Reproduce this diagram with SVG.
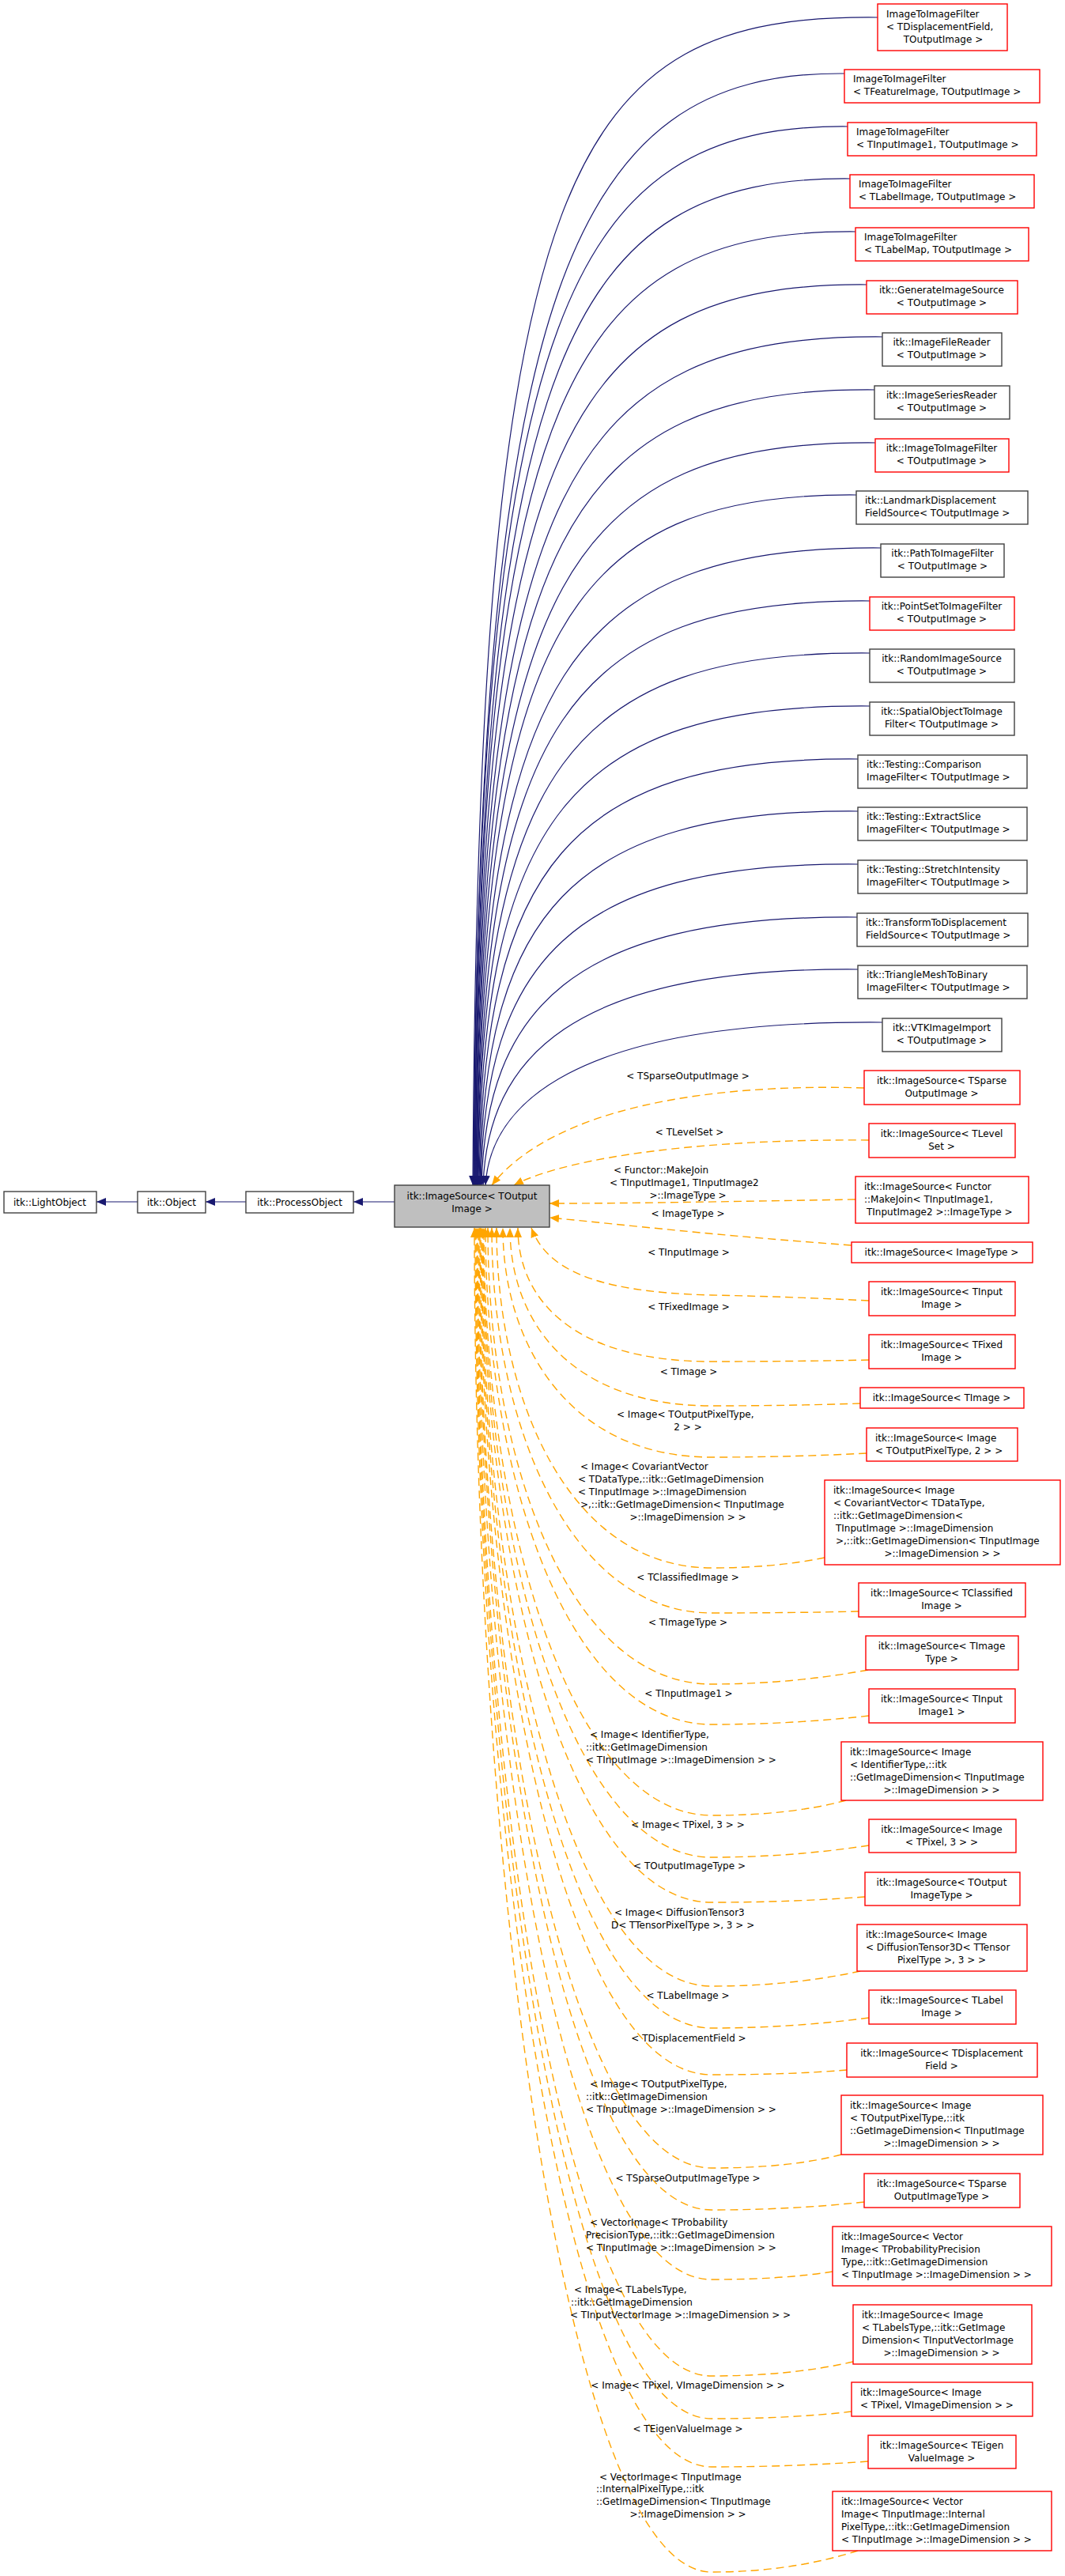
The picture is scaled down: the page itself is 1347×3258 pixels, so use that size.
<svg xmlns="http://www.w3.org/2000/svg" width="1347" height="3258" viewBox="0 0 1347 3258">
<style>
text{font-family:"DejaVu Sans","Liberation Sans",sans-serif;font-size:12px;fill:#000}
.m{text-anchor:middle}
.r{fill:#fff;stroke:#f00;stroke-width:1.4}
.b{fill:#fff;stroke:#404040;stroke-width:1.4}
.g{fill:#bfbfbf;stroke:#404040;stroke-width:1.4}
.s{fill:none;stroke:#191970;stroke-width:1.2;marker-end:url(#an)}
.d{fill:none;stroke:#ffa500;stroke-width:1.4;stroke-dasharray:10,6;marker-end:url(#ao)}
</style>
<defs>
<marker id="an" markerUnits="userSpaceOnUse" markerWidth="12" markerHeight="10" refX="12" refY="5" orient="auto"><path d="M0,0 L12,5 L0,10 z" fill="#191970"/></marker>
<marker id="ao" markerUnits="userSpaceOnUse" markerWidth="12" markerHeight="10" refX="12" refY="5" orient="auto"><path d="M0,0 L12,5 L0,10 z" fill="#ffa500"/></marker>
</defs>
<rect width="1347" height="3258" fill="#fff"/>
<g id="edges">
<path class="s" d="M174,1520 L122,1520"/>
<path class="s" d="M311,1520 L260,1520"/>
<path class="s" d="M499,1520 L447,1520"/>
<path class="s" d="M1110,22 C720,18 605,200 598,1499"/>
<path class="s" d="M1068,93 C720,90 605,370 599,1499"/>
<path class="s" d="M1072,160 C720,157 605,400 599,1499"/>
<path class="s" d="M1075,226 C720,223 606,450 600,1499"/>
<path class="s" d="M1082,293 C720,290 606,500 600,1499"/>
<path class="s" d="M1096,360 C720,357 606,560 601,1499"/>
<path class="s" d="M1116,426 C720,423 607,620 601,1499"/>
<path class="s" d="M1106,493 C720,490 607,680 602,1499"/>
<path class="s" d="M1107,560 C720,557 608,740 602,1499"/>
<path class="s" d="M1083,626 C720,623 608,800 603,1499"/>
<path class="s" d="M1114,693 C720,690 609,860 603,1499"/>
<path class="s" d="M1100,760 C720,757 609,920 604,1499"/>
<path class="s" d="M1100,826 C720,823 610,980 604,1499"/>
<path class="s" d="M1100,893 C720,890 610,1040 605,1499"/>
<path class="s" d="M1085,960 C720,957 611,1100 606,1499"/>
<path class="s" d="M1085,1026 C720,1023 612,1160 607,1499"/>
<path class="s" d="M1085,1093 C720,1090 613,1220 608,1499"/>
<path class="s" d="M1084,1160 C720,1157 615,1280 609,1499"/>
<path class="s" d="M1085,1226 C720,1223 617,1340 611,1499"/>
<path class="s" d="M1116,1293 C720,1290 620,1400 614,1499"/>
<path class="d" d="M1093,1376 C900,1370 700,1400 622,1499"/>
<path class="d" d="M1099,1442 C900,1440 720,1462 650,1499"/>
<path class="d" d="M1082,1517 C900,1520 800,1522 695,1522"/>
<path class="d" d="M1077,1575 C900,1562 800,1550 695,1540"/>
<path class="d" d="M1099,1645 Q1000,1640 900,1638 C740,1634 690,1600 672,1553"/>
<path class="d" d="M1099,1720 Q1000,1722 900,1722 C720,1722 655,1640 655,1553"/>
<path class="d" d="M1088,1775 Q1000,1778 900,1778 C720,1778 645,1670 645,1553"/>
<path class="d" d="M1096,1838 Q1000,1843 900,1843 C720,1843 636,1700 636,1553"/>
<path class="d" d="M1043,1970 Q980,1983 900,1983 C720,1983 628,1770 628,1553"/>
<path class="d" d="M1086,2038 Q1000,2040 900,2040 C720,2040 622,1800 622,1553"/>
<path class="d" d="M1098,2112 Q1000,2130 900,2130 C720,2130 617,1850 617,1553"/>
<path class="d" d="M1099,2170 Q1000,2181 900,2181 C720,2181 614,1870 614,1553"/>
<path class="d" d="M1070,2277 Q1000,2296 900,2296 C720,2296 612,1920 612,1553"/>
<path class="d" d="M1099,2334 Q1000,2349 900,2349 C720,2349 611,1950 611,1553"/>
<path class="d" d="M1094,2399 Q1000,2406 900,2406 C720,2406 610,1980 610,1553"/>
<path class="d" d="M1088,2493 Q1000,2512 900,2512 C720,2512 609,2030 609,1553"/>
<path class="d" d="M1099,2552 Q1000,2565 900,2565 C720,2565 608,2060 608,1553"/>
<path class="d" d="M1071,2618 Q1000,2624 900,2624 C720,2624 607,2090 607,1553"/>
<path class="d" d="M1064,2725 Q1000,2742 900,2742 C720,2742 606,2150 606,1553"/>
<path class="d" d="M1093,2785 Q1000,2795 900,2795 C720,2795 605,2170 605,1553"/>
<path class="d" d="M1053,2873 Q990,2883 900,2883 C720,2883 604,2220 604,1553"/>
<path class="d" d="M1079,2987 Q1000,3005 900,3005 C720,3005 603,2280 603,1553"/>
<path class="d" d="M1077,3050 Q1000,3059 900,3059 C720,3059 602,2300 602,1553"/>
<path class="d" d="M1098,3113 Q1000,3120 900,3120 C720,3120 601,2340 601,1553"/>
<path class="d" d="M1085,3226 Q1000,3253 900,3253 C720,3253 600,2400 600,1553"/>
</g>
<g id="labels">
<text class="m" x="870" y="1365">&lt; TSparseOutputImage &gt;</text>
<text class="m" x="872" y="1436">&lt; TLevelSet &gt;</text>
<text x="776" y="1484">&lt; Functor::MakeJoin</text>
<text x="771" y="1500">&lt; TInputImage1, TInputImage2</text>
<text class="m" x="870" y="1516">&gt;::ImageType &gt;</text>
<text class="m" x="870" y="1539">&lt; ImageType &gt;</text>
<text class="m" x="871" y="1588">&lt; TInputImage &gt;</text>
<text class="m" x="871" y="1657">&lt; TFixedImage &gt;</text>
<text class="m" x="871" y="1739">&lt; TImage &gt;</text>
<text x="780" y="1793">&lt; Image&lt; TOutputPixelType,</text>
<text class="m" x="870" y="1809">2 &gt; &gt;</text>
<text x="734" y="1859">&lt; Image&lt; CovariantVector</text>
<text x="731" y="1875">&lt; TDataType,::itk::GetImageDimension</text>
<text x="731" y="1891">&lt; TInputImage &gt;::ImageDimension</text>
<text x="734" y="1907">&gt;,::itk::GetImageDimension&lt; TInputImage</text>
<text class="m" x="870" y="1923">&gt;::ImageDimension &gt; &gt;</text>
<text class="m" x="870" y="1999">&lt; TClassifiedImage &gt;</text>
<text class="m" x="870" y="2056">&lt; TImageType &gt;</text>
<text class="m" x="871" y="2146">&lt; TInputImage1 &gt;</text>
<text x="746" y="2198">&lt; Image&lt; IdentifierType,</text>
<text x="741" y="2214">::itk::GetImageDimension</text>
<text x="741" y="2230">&lt; TInputImage &gt;::ImageDimension &gt; &gt;</text>
<text class="m" x="870" y="2312">&lt; Image&lt; TPixel, 3 &gt; &gt;</text>
<text class="m" x="872" y="2364">&lt; TOutputImageType &gt;</text>
<text x="777" y="2423">&lt; Image&lt; DiffusionTensor3</text>
<text x="773" y="2439">D&lt; TTensorPixelType &gt;, 3 &gt; &gt;</text>
<text class="m" x="870" y="2528">&lt; TLabelImage &gt;</text>
<text class="m" x="871" y="2582">&lt; TDisplacementField &gt;</text>
<text x="746" y="2640">&lt; Image&lt; TOutputPixelType,</text>
<text x="741" y="2656">::itk::GetImageDimension</text>
<text x="741" y="2672">&lt; TInputImage &gt;::ImageDimension &gt; &gt;</text>
<text class="m" x="870" y="2759">&lt; TSparseOutputImageType &gt;</text>
<text x="746" y="2815">&lt; VectorImage&lt; TProbability</text>
<text x="741" y="2831">PrecisionType,::itk::GetImageDimension</text>
<text x="741" y="2847">&lt; TInputImage &gt;::ImageDimension &gt; &gt;</text>
<text x="726" y="2900">&lt; Image&lt; TLabelsType,</text>
<text x="722" y="2916">::itk::GetImageDimension</text>
<text x="721" y="2932">&lt; TInputVectorImage &gt;::ImageDimension &gt; &gt;</text>
<text class="m" x="870" y="3021">&lt; Image&lt; TPixel, VImageDimension &gt; &gt;</text>
<text class="m" x="870" y="3076">&lt; TEigenValueImage &gt;</text>
<text x="758" y="3137">&lt; VectorImage&lt; TInputImage</text>
<text x="754" y="3152">::InternalPixelType,::itk</text>
<text x="754" y="3168">::GetImageDimension&lt; TInputImage</text>
<text class="m" x="870" y="3184">&gt;::ImageDimension &gt; &gt;</text>
</g>
<g id="lightobject"><rect class="b" x="5" y="1507" width="117" height="27"/><text class="m" x="63" y="1525">itk::LightObject</text></g>
<g id="object"><rect class="b" x="174" y="1507" width="86" height="27"/><text class="m" x="217" y="1525">itk::Object</text></g>
<g id="processobject"><rect class="b" x="311" y="1507" width="136" height="27"/><text class="m" x="379" y="1525">itk::ProcessObject</text></g>
<g id="imagesource"><rect class="g" x="499" y="1499" width="196" height="53"/><text class="m" x="597" y="1517">itk::ImageSource&lt; TOutput</text><text class="m" x="597" y="1533">Image &gt;</text></g>
<g id="n1"><rect class="r" x="1110" y="5" width="164" height="59"/><text x="1121" y="22">ImageToImageFilter</text><text x="1121" y="38">&lt; TDisplacementField,</text><text class="m" x="1193" y="54">TOutputImage &gt;</text></g>
<g id="n2"><rect class="r" x="1068" y="88" width="247" height="42"/><text x="1079" y="104">ImageToImageFilter</text><text x="1079" y="120">&lt; TFeatureImage, TOutputImage &gt;</text></g>
<g id="n3"><rect class="r" x="1072" y="155" width="239" height="42"/><text x="1083" y="171">ImageToImageFilter</text><text x="1083" y="187">&lt; TInputImage1, TOutputImage &gt;</text></g>
<g id="n4"><rect class="r" x="1075" y="221" width="233" height="42"/><text x="1086" y="237">ImageToImageFilter</text><text x="1086" y="253">&lt; TLabelImage, TOutputImage &gt;</text></g>
<g id="n5"><rect class="r" x="1082" y="288" width="219" height="42"/><text x="1093" y="304">ImageToImageFilter</text><text x="1093" y="320">&lt; TLabelMap, TOutputImage &gt;</text></g>
<g id="n6"><rect class="r" x="1096" y="355" width="191" height="42"/><text class="m" x="1191" y="371">itk::GenerateImageSource</text><text class="m" x="1191" y="387">&lt; TOutputImage &gt;</text></g>
<g id="n7"><rect class="b" x="1116" y="421" width="151" height="42"/><text class="m" x="1191" y="437">itk::ImageFileReader</text><text class="m" x="1191" y="453">&lt; TOutputImage &gt;</text></g>
<g id="n8"><rect class="b" x="1106" y="488" width="171" height="42"/><text class="m" x="1191" y="504">itk::ImageSeriesReader</text><text class="m" x="1191" y="520">&lt; TOutputImage &gt;</text></g>
<g id="n9"><rect class="r" x="1107" y="555" width="169" height="42"/><text class="m" x="1191" y="571">itk::ImageToImageFilter</text><text class="m" x="1191" y="587">&lt; TOutputImage &gt;</text></g>
<g id="n10"><rect class="b" x="1083" y="621" width="217" height="42"/><text x="1094" y="637">itk::LandmarkDisplacement</text><text x="1094" y="653">FieldSource&lt; TOutputImage &gt;</text></g>
<g id="n11"><rect class="b" x="1114" y="688" width="156" height="42"/><text class="m" x="1192" y="704">itk::PathToImageFilter</text><text class="m" x="1192" y="720">&lt; TOutputImage &gt;</text></g>
<g id="n12"><rect class="r" x="1100" y="755" width="183" height="42"/><text class="m" x="1191" y="771">itk::PointSetToImageFilter</text><text class="m" x="1191" y="787">&lt; TOutputImage &gt;</text></g>
<g id="n13"><rect class="b" x="1100" y="821" width="183" height="42"/><text class="m" x="1191" y="837">itk::RandomImageSource</text><text class="m" x="1191" y="853">&lt; TOutputImage &gt;</text></g>
<g id="n14"><rect class="b" x="1100" y="888" width="183" height="42"/><text class="m" x="1191" y="904">itk::SpatialObjectToImage</text><text class="m" x="1191" y="920">Filter&lt; TOutputImage &gt;</text></g>
<g id="n15"><rect class="b" x="1085" y="955" width="214" height="42"/><text x="1096" y="971">itk::Testing::Comparison</text><text x="1096" y="987">ImageFilter&lt; TOutputImage &gt;</text></g>
<g id="n16"><rect class="b" x="1085" y="1021" width="214" height="42"/><text x="1096" y="1037">itk::Testing::ExtractSlice</text><text x="1096" y="1053">ImageFilter&lt; TOutputImage &gt;</text></g>
<g id="n17"><rect class="b" x="1085" y="1088" width="214" height="42"/><text x="1096" y="1104">itk::Testing::StretchIntensity</text><text x="1096" y="1120">ImageFilter&lt; TOutputImage &gt;</text></g>
<g id="n18"><rect class="b" x="1084" y="1155" width="216" height="42"/><text x="1095" y="1171">itk::TransformToDisplacement</text><text x="1095" y="1187">FieldSource&lt; TOutputImage &gt;</text></g>
<g id="n19"><rect class="b" x="1085" y="1221" width="214" height="42"/><text x="1096" y="1237">itk::TriangleMeshToBinary</text><text x="1096" y="1253">ImageFilter&lt; TOutputImage &gt;</text></g>
<g id="n20"><rect class="b" x="1116" y="1288" width="151" height="42"/><text class="m" x="1191" y="1304">itk::VTKImageImport</text><text class="m" x="1191" y="1320">&lt; TOutputImage &gt;</text></g>
<g id="n21"><rect class="r" x="1093" y="1354" width="197" height="43"/><text class="m" x="1191" y="1371">itk::ImageSource&lt; TSparse</text><text class="m" x="1191" y="1387">OutputImage &gt;</text></g>
<g id="n22"><rect class="r" x="1099" y="1421" width="185" height="43"/><text class="m" x="1191" y="1438">itk::ImageSource&lt; TLevel</text><text class="m" x="1191" y="1454">Set &gt;</text></g>
<g id="n23"><rect class="r" x="1082" y="1488" width="219" height="59"/><text x="1093" y="1505">itk::ImageSource&lt; Functor</text><text x="1093" y="1521">::MakeJoin&lt; TInputImage1,</text><text x="1096" y="1537">TInputImage2 &gt;::ImageType &gt;</text></g>
<g id="n24"><rect class="r" x="1077" y="1571" width="229" height="26"/><text class="m" x="1191" y="1588">itk::ImageSource&lt; ImageType &gt;</text></g>
<g id="n25"><rect class="r" x="1099" y="1621" width="185" height="43"/><text class="m" x="1191" y="1638">itk::ImageSource&lt; TInput</text><text class="m" x="1191" y="1654">Image &gt;</text></g>
<g id="n26"><rect class="r" x="1099" y="1688" width="185" height="43"/><text class="m" x="1191" y="1705">itk::ImageSource&lt; TFixed</text><text class="m" x="1191" y="1721">Image &gt;</text></g>
<g id="n27"><rect class="r" x="1088" y="1755" width="207" height="26"/><text class="m" x="1191" y="1772">itk::ImageSource&lt; TImage &gt;</text></g>
<g id="n28"><rect class="r" x="1096" y="1806" width="191" height="42"/><text x="1107" y="1823">itk::ImageSource&lt; Image</text><text x="1107" y="1839">&lt; TOutputPixelType, 2 &gt; &gt;</text></g>
<g id="n29"><rect class="r" x="1043" y="1872" width="298" height="107"/><text x="1054" y="1889">itk::ImageSource&lt; Image</text><text x="1054" y="1905">&lt; CovariantVector&lt; TDataType,</text><text x="1054" y="1921">::itk::GetImageDimension&lt;</text><text x="1057" y="1937">TInputImage &gt;::ImageDimension</text><text x="1057" y="1953">&gt;,::itk::GetImageDimension&lt; TInputImage</text><text class="m" x="1192" y="1969">&gt;::ImageDimension &gt; &gt;</text></g>
<g id="n30"><rect class="r" x="1086" y="2002" width="211" height="43"/><text class="m" x="1191" y="2019">itk::ImageSource&lt; TClassified</text><text class="m" x="1191" y="2035">Image &gt;</text></g>
<g id="n31"><rect class="r" x="1095" y="2069" width="193" height="43"/><text class="m" x="1191" y="2086">itk::ImageSource&lt; TImage</text><text class="m" x="1191" y="2102">Type &gt;</text></g>
<g id="n32"><rect class="r" x="1099" y="2136" width="185" height="43"/><text class="m" x="1191" y="2153">itk::ImageSource&lt; TInput</text><text class="m" x="1191" y="2169">Image1 &gt;</text></g>
<g id="n33"><rect class="r" x="1064" y="2203" width="255" height="74"/><text x="1075" y="2220">itk::ImageSource&lt; Image</text><text x="1075" y="2236">&lt; IdentifierType,::itk</text><text x="1075" y="2252">::GetImageDimension&lt; TInputImage</text><text class="m" x="1191" y="2268">&gt;::ImageDimension &gt; &gt;</text></g>
<g id="n34"><rect class="r" x="1099" y="2301" width="186" height="42"/><text class="m" x="1191" y="2318">itk::ImageSource&lt; Image</text><text class="m" x="1191" y="2334">&lt; TPixel, 3 &gt; &gt;</text></g>
<g id="n35"><rect class="r" x="1094" y="2368" width="196" height="42"/><text class="m" x="1191" y="2385">itk::ImageSource&lt; TOutput</text><text class="m" x="1191" y="2401">ImageType &gt;</text></g>
<g id="n36"><rect class="r" x="1084" y="2434" width="215" height="59"/><text x="1095" y="2451">itk::ImageSource&lt; Image</text><text x="1095" y="2467">&lt; DiffusionTensor3D&lt; TTensor</text><text class="m" x="1191" y="2483">PixelType &gt;, 3 &gt; &gt;</text></g>
<g id="n37"><rect class="r" x="1099" y="2517" width="186" height="43"/><text class="m" x="1191" y="2534">itk::ImageSource&lt; TLabel</text><text class="m" x="1191" y="2550">Image &gt;</text></g>
<g id="n38"><rect class="r" x="1071" y="2584" width="241" height="43"/><text class="m" x="1191" y="2601">itk::ImageSource&lt; TDisplacement</text><text class="m" x="1191" y="2617">Field &gt;</text></g>
<g id="n39"><rect class="r" x="1064" y="2650" width="255" height="75"/><text x="1075" y="2667">itk::ImageSource&lt; Image</text><text x="1075" y="2683">&lt; TOutputPixelType,::itk</text><text x="1075" y="2699">::GetImageDimension&lt; TInputImage</text><text class="m" x="1191" y="2715">&gt;::ImageDimension &gt; &gt;</text></g>
<g id="n40"><rect class="r" x="1093" y="2749" width="197" height="43"/><text class="m" x="1191" y="2766">itk::ImageSource&lt; TSparse</text><text class="m" x="1191" y="2782">OutputImageType &gt;</text></g>
<g id="n41"><rect class="r" x="1053" y="2816" width="277" height="75"/><text x="1064" y="2833">itk::ImageSource&lt; Vector</text><text x="1064" y="2849">Image&lt; TProbabilityPrecision</text><text x="1064" y="2865">Type,::itk::GetImageDimension</text><text x="1064" y="2881">&lt; TInputImage &gt;::ImageDimension &gt; &gt;</text></g>
<g id="n42"><rect class="r" x="1079" y="2915" width="226" height="75"/><text x="1090" y="2932">itk::ImageSource&lt; Image</text><text x="1090" y="2948">&lt; TLabelsType,::itk::GetImage</text><text x="1090" y="2964">Dimension&lt; TInputVectorImage</text><text class="m" x="1191" y="2980">&gt;::ImageDimension &gt; &gt;</text></g>
<g id="n43"><rect class="r" x="1077" y="3013" width="229" height="43"/><text x="1088" y="3030">itk::ImageSource&lt; Image</text><text x="1088" y="3046">&lt; TPixel, VImageDimension &gt; &gt;</text></g>
<g id="n44"><rect class="r" x="1098" y="3080" width="187" height="42"/><text class="m" x="1191" y="3097">itk::ImageSource&lt; TEigen</text><text class="m" x="1191" y="3113">ValueImage &gt;</text></g>
<g id="n45"><rect class="r" x="1053" y="3151" width="277" height="75"/><text x="1064" y="3168">itk::ImageSource&lt; Vector</text><text x="1064" y="3184">Image&lt; TInputImage::Internal</text><text x="1064" y="3200">PixelType,::itk::GetImageDimension</text><text x="1064" y="3216">&lt; TInputImage &gt;::ImageDimension &gt; &gt;</text></g>
</svg>
